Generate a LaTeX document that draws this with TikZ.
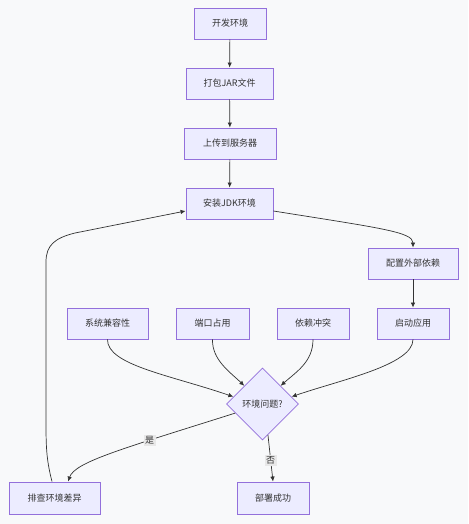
\documentclass[tikz,border=0pt]{standalone}
\usepackage{fontspec}
\setmainfont{Noto Sans CJK SC}
\usetikzlibrary{shapes.geometric,arrows.meta,calc}
\definecolor{nodefill}{HTML}{ECECFF}
\definecolor{nodeline}{HTML}{9370DB}
\definecolor{edgecol}{HTML}{333333}
\definecolor{bgcol}{HTML}{F8F9FA}
\definecolor{lblbg}{HTML}{E8E8E8}
\definecolor{txtcol}{HTML}{333333}
\begin{document}
\begin{tikzpicture}[x=1pt,y=-1pt,
  box/.style={draw=nodeline, fill=nodefill, line width=0.9pt, minimum height=31pt,
    inner sep=0pt, font=\fontsize{9}{11}\selectfont, text=txtcol},
  dia/.style={diamond, draw=nodeline, fill=nodefill, line width=0.8pt,
    minimum width=72pt, minimum height=72pt, inner sep=0pt, aspect=1,
    font=\fontsize{9}{11}\selectfont, text=txtcol},
  edge/.style={draw=edgecol, line width=0.7pt, -{Latex[length=5pt,width=4.5pt]}},
  lbl/.style={fill=lblbg, inner sep=1.5pt, font=\fontsize{9}{11}\selectfont, text=txtcol}]
\fill[bgcol] (0,0) rectangle (468,524);
\useasboundingbox (0,0) rectangle (468,524);

\node[box, minimum width=72pt] (n1) at (230,23.5) {开发环境};
\node[box, minimum width=87pt] (n2) at (229.5,83.5) {打包JAR文件};
\node[box, minimum width=92pt] (n3) at (230,143.5) {上传到服务器};
\node[box, minimum width=87pt] (n4) at (229.5,203.5) {安装JDK环境};
\node[box, minimum width=90pt] (n5) at (413,263.5) {配置外部依赖};
\node[box, minimum width=81pt] (n6) at (107.5,323.5) {系统兼容性};
\node[box, minimum width=73pt] (n7) at (212.5,323.5) {端口占用};
\node[box, minimum width=72pt] (n8) at (313,323.5) {依赖冲突};
\node[box, minimum width=72pt] (n9) at (413,323.5) {启动应用};
\node[dia] (d) at (262.5,404) {环境问题?};
\node[box, minimum width=91pt, minimum height=32pt] (n10) at (54.5,498) {排查环境差异};
\node[box, minimum width=72pt, minimum height=32pt] (n11) at (273,498) {部署成功};

\draw[edge] (n1) -- (n2);
\draw[edge] (n2) -- (n3);
\draw[edge] (n3) -- (n4);
\draw[edge] ([yshift=-7.5pt]n4.east) .. controls (380,228) and (413,232) .. (n5.north);
\draw[edge] (n5) -- (n9);
\draw[edge] (n6.south) .. controls (107,365) and (170,375) .. ($(d.west)!0.2!(d.north)$);
\draw[edge] (n7.south) .. controls (212,360) and (230,372) .. (d.north west);
\draw[edge] (n8.south) .. controls (313,362) and (296,372) .. (d.north east);
\draw[edge] (n9.south) .. controls (413,365) and (340,380) .. ($(d.east)!0.2!(d.north)$);
\draw[edge] ($(d.west)!0.25!(d.south)$) .. controls (120,449.5) and (75,462) .. ([xshift=13.5pt]n10.north)
  node[lbl, pos=0.3] {是};
\draw[edge] ($(d.south)!0.15!(d.east)$) -- (n11.north) node[lbl, pos=0.55] {否};
\draw[edge] ([xshift=-2.5pt]n10.north) .. controls (47,462) and (46,450) .. (46,425)
  -- (46,262) .. controls (46,245) and (55,238) .. (75,233) -- ([yshift=-7.5pt]n4.west);
\end{tikzpicture}
\end{document}
